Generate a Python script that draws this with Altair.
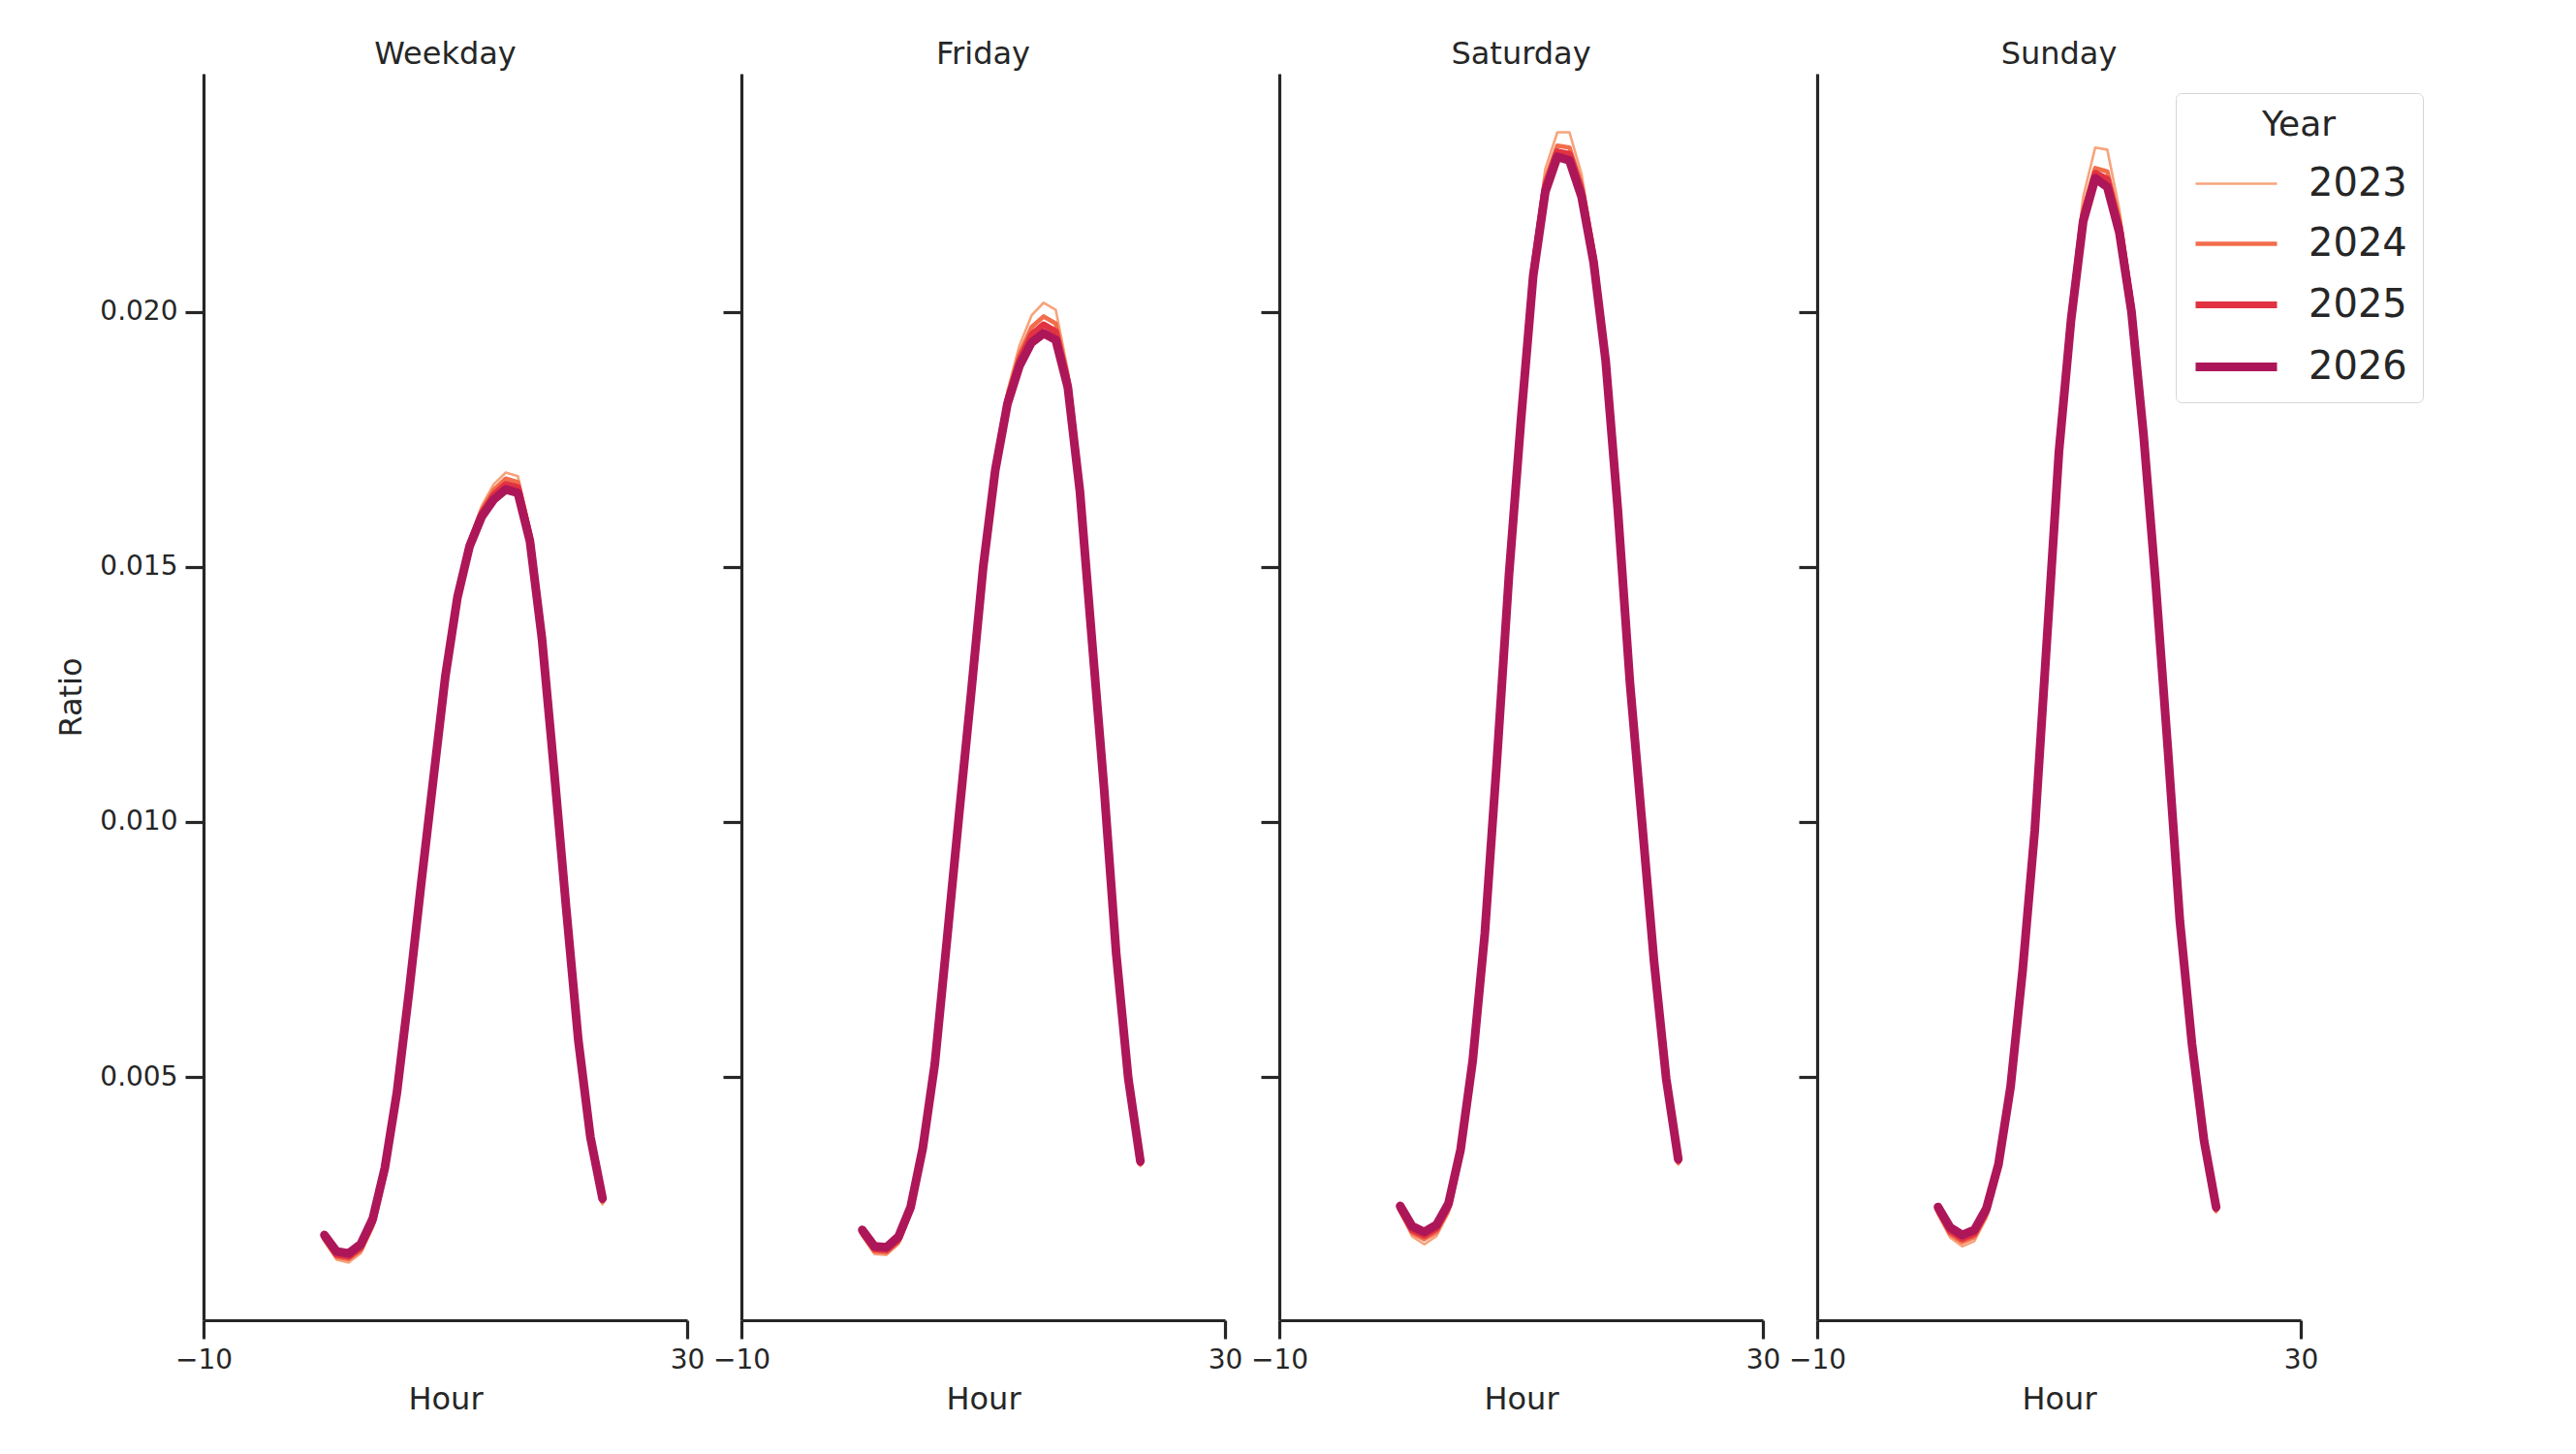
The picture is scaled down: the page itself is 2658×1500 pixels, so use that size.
import altair as alt
import pandas as pd

hours = list(range(24))
days = ["Weekday", "Friday", "Saturday", "Sunday"]
years = ["2023", "2024", "2025", "2026"]
year_colors = ["#f6a47c", "#f26d4b", "#e13342", "#ad1759"]
year_widths = [2.6, 4.6, 6.8, 9.0]

weekday_2023 = [0.00178, 0.00142, 0.00136, 0.00154, 0.00204, 0.00308, 0.00462, 0.00664,
                0.00880, 0.01087, 0.01293, 0.01451, 0.01555, 0.01619, 0.01662, 0.01685,
                0.01678, 0.01575, 0.01370, 0.01106, 0.00830, 0.00569, 0.00376, 0.00250]
weekday_2024 = [0.00182, 0.00147, 0.00143, 0.00160, 0.00210, 0.00313, 0.00465, 0.00665,
                0.00879, 0.01085, 0.01290, 0.01447, 0.01549, 0.01611, 0.01651, 0.01673,
                0.01666, 0.01566, 0.01366, 0.01104, 0.00830, 0.00570, 0.00378, 0.00255]
weekday_2025 = [0.00186, 0.00152, 0.00148, 0.00166, 0.00216, 0.00318, 0.00468, 0.00666,
                0.00878, 0.01083, 0.01287, 0.01443, 0.01544, 0.01604, 0.01641, 0.01662,
                0.01656, 0.01558, 0.01362, 0.01102, 0.00830, 0.00571, 0.00380, 0.00259]
weekday_2026 = [0.00190, 0.00158, 0.00154, 0.00172, 0.00222, 0.00322, 0.00470, 0.00667,
                0.00878, 0.01082, 0.01285, 0.01440, 0.01540, 0.01598, 0.01632, 0.01652,
                0.01645, 0.01550, 0.01358, 0.01100, 0.00830, 0.00572, 0.00382, 0.00262]

friday_2023 = [0.00188, 0.00153, 0.00151, 0.00172, 0.00232, 0.00351, 0.00523, 0.00768,
               0.01016, 0.01259, 0.01510, 0.01708, 0.01845, 0.01934, 0.01993, 0.02018,
               0.02004, 0.01885, 0.01668, 0.01365, 0.01068, 0.00738, 0.00490, 0.00325]
friday_2024 = [0.00192, 0.00158, 0.00156, 0.00177, 0.00236, 0.00354, 0.00524, 0.00768,
               0.01015, 0.01256, 0.01506, 0.01701, 0.01834, 0.01917, 0.01970, 0.01991,
               0.01977, 0.01872, 0.01660, 0.01361, 0.01067, 0.00740, 0.00493, 0.00329]
friday_2025 = [0.00196, 0.00163, 0.00161, 0.00182, 0.00241, 0.00357, 0.00525, 0.00768,
               0.01014, 0.01254, 0.01503, 0.01695, 0.01826, 0.01905, 0.01955, 0.01975,
               0.01961, 0.01862, 0.01654, 0.01358, 0.01066, 0.00741, 0.00495, 0.00332]
friday_2026 = [0.00200, 0.00168, 0.00166, 0.00187, 0.00245, 0.00360, 0.00526, 0.00768,
               0.01013, 0.01252, 0.01500, 0.01690, 0.01819, 0.01894, 0.01940, 0.01958,
               0.01945, 0.01852, 0.01648, 0.01355, 0.01065, 0.00742, 0.00497, 0.00335]

saturday_2023 = [0.00234, 0.00187, 0.00172, 0.00188, 0.00233, 0.00345, 0.00526, 0.00781,
                 0.01127, 0.01498, 0.01812, 0.02105, 0.02280, 0.02352, 0.02352, 0.02270,
                 0.02128, 0.01922, 0.01622, 0.01277, 0.01000, 0.00722, 0.00488, 0.00328]
saturday_2024 = [0.00238, 0.00194, 0.00182, 0.00196, 0.00240, 0.00350, 0.00528, 0.00781,
                 0.01124, 0.01492, 0.01803, 0.02090, 0.02259, 0.02326, 0.02322, 0.02250,
                 0.02115, 0.01915, 0.01619, 0.01276, 0.01000, 0.00724, 0.00491, 0.00332]
saturday_2025 = [0.00242, 0.00200, 0.00189, 0.00203, 0.00246, 0.00354, 0.00530, 0.00781,
                 0.01122, 0.01488, 0.01796, 0.02080, 0.02247, 0.02314, 0.02309, 0.02238,
                 0.02106, 0.01909, 0.01616, 0.01275, 0.01000, 0.00725, 0.00494, 0.00336]
saturday_2026 = [0.00247, 0.00207, 0.00196, 0.00210, 0.00252, 0.00358, 0.00532, 0.00781,
                 0.01120, 0.01484, 0.01790, 0.02070, 0.02235, 0.02304, 0.02297, 0.02226,
                 0.02097, 0.01903, 0.01613, 0.01274, 0.01000, 0.00726, 0.00497, 0.00339]

sunday_2023 = [0.00230, 0.00185, 0.00168, 0.00178, 0.00223, 0.00316, 0.00475, 0.00710,
               0.00990, 0.01372, 0.01752, 0.02020, 0.02225, 0.02322, 0.02318, 0.02200,
               0.02035, 0.01778, 0.01478, 0.01148, 0.00806, 0.00562, 0.00367, 0.00234]
sunday_2024 = [0.00235, 0.00192, 0.00176, 0.00186, 0.00230, 0.00321, 0.00477, 0.00710,
               0.00988, 0.01365, 0.01740, 0.02002, 0.02199, 0.02282, 0.02275, 0.02180,
               0.02020, 0.01770, 0.01474, 0.01147, 0.00806, 0.00563, 0.00370, 0.00238]
sunday_2025 = [0.00240, 0.00198, 0.00183, 0.00193, 0.00236, 0.00325, 0.00479, 0.00710,
               0.00986, 0.01360, 0.01733, 0.01993, 0.02188, 0.02272, 0.02260, 0.02168,
               0.02010, 0.01764, 0.01471, 0.01146, 0.00806, 0.00564, 0.00372, 0.00242]
sunday_2026 = [0.00245, 0.00205, 0.00190, 0.00200, 0.00242, 0.00329, 0.00481, 0.00710,
               0.00984, 0.01355, 0.01726, 0.01984, 0.02177, 0.02262, 0.02245, 0.02155,
               0.02000, 0.01758, 0.01468, 0.01145, 0.00806, 0.00565, 0.00375, 0.00245]

series = {
    ("Weekday", "2023"): weekday_2023, ("Weekday", "2024"): weekday_2024,
    ("Weekday", "2025"): weekday_2025, ("Weekday", "2026"): weekday_2026,
    ("Friday", "2023"): friday_2023, ("Friday", "2024"): friday_2024,
    ("Friday", "2025"): friday_2025, ("Friday", "2026"): friday_2026,
    ("Saturday", "2023"): saturday_2023, ("Saturday", "2024"): saturday_2024,
    ("Saturday", "2025"): saturday_2025, ("Saturday", "2026"): saturday_2026,
    ("Sunday", "2023"): sunday_2023, ("Sunday", "2024"): sunday_2024,
    ("Sunday", "2025"): sunday_2025, ("Sunday", "2026"): sunday_2026,
}

rows = []
for (day, year), values in series.items():
    for hour, ratio in zip(hours, values):
        rows.append({"Day": day, "Year": year, "Hour": hour, "Ratio": ratio})
df = pd.DataFrame(rows)

INK = "#262626"


def day_panel(day: str, first: bool) -> alt.Chart:
    """One panel of hourly ratio lines for a day type."""
    y_axis = alt.Axis(
        values=[0.005, 0.010, 0.015, 0.020],
        format=".3f",
        labels=first,
        title="Ratio" if first else None,
    )
    x_axis = alt.Axis(values=[-10, 30], format="d", title="Hour")
    year_legend = alt.Legend(title="Year")

    return alt.Chart(df).transform_filter(
        alt.datum.Day == day
    ).mark_line(strokeCap="round", strokeJoin="round").encode(
        x=alt.X("Hour:Q", scale=alt.Scale(domain=[-10, 30], nice=False, zero=False),
                axis=x_axis),
        y=alt.Y("Ratio:Q", scale=alt.Scale(domain=[0.00023, 0.02467], nice=False, zero=False),
                axis=y_axis),
        color=alt.Color("Year:O", scale=alt.Scale(type="ordinal", domain=years,
                                                  range=year_colors),
                        legend=year_legend),
        strokeWidth=alt.StrokeWidth("Year:O", scale=alt.Scale(type="ordinal", domain=years,
                                                              range=year_widths),
                                    legend=year_legend),
    ).properties(
        width=499,
        height=1286,
        title=alt.TitleParams(day, fontSize=32, fontWeight="normal", color=INK, offset=3),
    )


panels = [day_panel(day, i == 0) for i, day in enumerate(days)]

chart = alt.hconcat(*panels, spacing=56, bounds="flush").properties(
    padding={"left": 49, "top": 32, "right": 5, "bottom": 5},
).configure(
    font="DejaVu Sans",
).configure_view(
    stroke=None,
).configure_axis(
    grid=False,
    domainColor=INK,
    domainWidth=3.2,
    tickColor=INK,
    tickWidth=3.2,
    tickSize=19,
    labelColor=INK,
    labelFontSize=28,
    labelFlush=False,
    labelOverlap=False,
    titleColor=INK,
    titleFontSize=32,
    titleFontWeight="normal",
).configure_axisY(
    labelPadding=8,
    titlePadding=12,
).configure_axisX(
    labelPadding=8,
    titlePadding=11,
).configure_legend(
    orient="none",
    legendX=2035,
    legendY=20,
    strokeColor="#d5d5d5",
    fillColor="white",
    cornerRadius=6,
    padding=16,
    titleAnchor="middle",
    titleFontSize=36,
    titleFontWeight="normal",
    titleColor=INK,
    titlePadding=10,
    labelFontSize=40,
    labelColor=INK,
    labelOffset=52,
    symbolType="M-1,0H1.8",
    symbolSize=3600,
    rowPadding=9,
)

chart.save("out.html", embed_options={"renderer": "svg", "actions": False})
